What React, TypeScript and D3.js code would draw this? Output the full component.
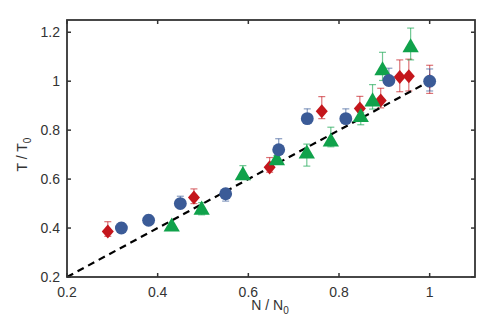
import React from 'react';
import * as d3 from 'd3';

// blue circles
const blueX = [0.32, 0.38, 0.45, 0.55, 0.667, 0.73, 0.815, 0.91, 1.0];
const blueY = [0.40, 0.432, 0.50, 0.54, 0.72, 0.847, 0.847, 1.003, 1.0];
const blueUp = [0.02, 0.02, 0.03, 0.02, 0.045, 0.04, 0.04, 0.05, 0.05];
const blueDn = [0.01, 0.01, 0.01, 0.03, 0.01, 0.01, 0.01, 0.02, 0.04];

// red diamonds
const redX = [0.29, 0.48, 0.647, 0.762, 0.846, 0.892, 0.934, 0.954, 1.0];
const redY = [0.386, 0.525, 0.648, 0.877, 0.888, 0.921, 1.017, 1.02, 1.0];
const redUp = [0.04, 0.035, 0.04, 0.06, 0.05, 0.05, 0.07, 0.07, 0.065];
const redDn = [0.02, 0.025, 0.02, 0.03, 0.04, 0.03, 0.06, 0.06, 0.05];

// green triangles
const greenX = [0.431, 0.497, 0.588, 0.663, 0.729, 0.782, 0.848, 0.874, 0.896, 0.958];
const greenY = [0.405, 0.474, 0.615, 0.676, 0.703, 0.752, 0.852, 0.916, 1.043, 1.137];
const greenUp = [0.01, 0.03, 0.04, 0.02, 0.04, 0.06, 0.02, 0.07, 0.075, 0.08];
const greenDn = [0.01, 0.02, 0.01, 0.01, 0.05, 0.02, 0.03, 0.03, 0.04, 0.05];

const xTicks = [0.2, 0.4, 0.6, 0.8, 1.0];
const yTicks = [0.2, 0.4, 0.6, 0.8, 1.0, 1.2];

const W = 498;
const H = 330;
const margin = { top: 20, right: 23, bottom: 53, left: 67 };

const BLUE = '#3b5b97';
const RED = '#c4161c';
const GREEN = '#10a24b';
const AXIS = '#333';

const fmt = (v: number) => (v === 1 ? '1' : d3.format('.1f')(v));

export default function App() {
  const x = d3.scaleLinear().domain([0.2, 1.1]).range([margin.left, W - margin.right]);
  const y = d3.scaleLinear().domain([0.2, 1.25]).range([H - margin.bottom, margin.top]);
  const x0 = margin.left, x1 = W - margin.right, y0 = H - margin.bottom, y1 = margin.top;

  // drawing order: red, green, blue (blue on top)
  const series = [
    { xs: redX, ys: redY, up: redUp, dn: redDn, color: RED, shape: d3.symbolSquare, size: 100, tf: 'scale(0.85,1) rotate(45)' },
    { xs: greenX, ys: greenY, up: greenUp, dn: greenDn, color: GREEN, shape: d3.symbolTriangle, size: 115, tf: '' },
    { xs: blueX, ys: blueY, up: blueUp, dn: blueDn, color: BLUE, shape: d3.symbolCircle, size: 130, tf: '' },
  ];

  const line = d3.line<number>().x(d => x(d)).y(d => y(d));

  return (
    <svg width={W} height={H} style={{ position: 'absolute', left: 0, top: 0, fontFamily: 'Liberation Sans, Arial, sans-serif' }}>
      {/* error bars */}
      {series.map((s, si) => (
        <g key={'e' + si} stroke={s.color} strokeOpacity={0.6} strokeWidth={1.2}>
          {s.xs.map((xv, i) => {
            const cx = x(xv);
            const top = y(s.ys[i] + s.up[i]);
            const bot = y(s.ys[i] - s.dn[i]);
            return (
              <g key={i}>
                <line x1={cx} x2={cx} y1={top} y2={bot} />
                <line x1={cx - 3.5} x2={cx + 3.5} y1={top} y2={top} />
                <line x1={cx - 3.5} x2={cx + 3.5} y1={bot} y2={bot} />
              </g>
            );
          })}
        </g>
      ))}
      {/* dashed diagonal */}
      <path d={line([0.2, 1.0]) || ''} stroke="#000" strokeWidth={2.2} strokeDasharray="7,5" fill="none" />
      {/* markers */}
      {series.map((s, si) => (
        <g key={'m' + si} fill={s.color}>
          {s.xs.map((xv, i) => (
            <path key={i} d={d3.symbol().type(s.shape).size(s.size)() || ''}
              transform={`translate(${x(xv)},${y(s.ys[i])}) ${s.tf}`} />
          ))}
        </g>
      ))}
      {/* frame */}
      <rect x={x0} y={y1} width={x1 - x0} height={y0 - y1} fill="none" stroke={AXIS} strokeWidth={1.8} />
      {xTicks.map(t => (
        <g key={'x' + t}>
          <line x1={x(t)} x2={x(t)} y1={y0} y2={y0 - 4} stroke={AXIS} strokeWidth={1.5} />
          <line x1={x(t)} x2={x(t)} y1={y1} y2={y1 + 4} stroke={AXIS} strokeWidth={1.5} />
          <text x={x(t)} y={y0 + 20} textAnchor="middle" fontSize={14} fill={AXIS}>{fmt(t)}</text>
        </g>
      ))}
      {yTicks.map(t => (
        <g key={'y' + t}>
          <line x1={x0} x2={x0 + 4} y1={y(t)} y2={y(t)} stroke={AXIS} strokeWidth={1.5} />
          <line x1={x1} x2={x1 - 4} y1={y(t)} y2={y(t)} stroke={AXIS} strokeWidth={1.5} />
          <text x={x0 - 7} y={y(t) + 5} textAnchor="end" fontSize={14} fill={AXIS}>{fmt(t)}</text>
        </g>
      ))}
      <text x={270} y={310} textAnchor="middle" fontSize={14} fill={AXIS}>
        N / N<tspan fontSize={10} dy={4}>0</tspan>
      </text>
      <text transform={`translate(27,${(y0 + y1) / 2 + 6}) rotate(-90)`} textAnchor="middle" fontSize={14} fill={AXIS}>
        T / T<tspan fontSize={10} dy={4}>0</tspan>
      </text>
    </svg>
  );
}
